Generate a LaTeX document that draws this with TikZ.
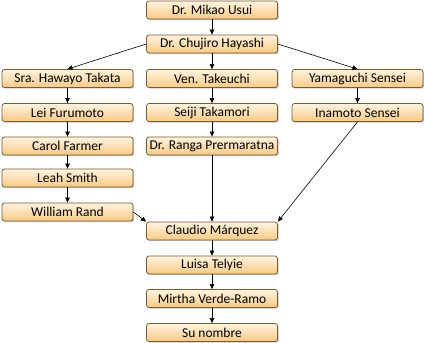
\documentclass[tikz,border=0pt]{standalone}
\usepackage{fontspec}
\setmainfont{Carlito}
\usetikzlibrary{arrows.meta,shadows}
\definecolor{boxline}{HTML}{7A5A2E}
\definecolor{boxtop}{HTML}{FFF4E0}
\definecolor{boxbot}{HTML}{F8C985}
\tikzset{
  person/.style={draw=boxline, line width=0.8pt, rounded corners=2.5pt,
    top color=boxtop, bottom color=boxbot,
    minimum width=131pt, minimum height=18pt, inner sep=0pt,
    font=\fontsize{13.5}{14}\selectfont,
    drop shadow={shadow xshift=1.2pt, shadow yshift=-1.2pt, fill=black!35, opacity=0.6}},
  link/.style={draw=black, line width=0.6pt, -{Triangle[length=5pt,width=4.5pt]}}
}
\begin{document}
\begin{tikzpicture}[x=1pt,y=-1pt]
\useasboundingbox[fill=white] (0,0) rectangle (424,343);
\node[person] (usui) at (212,10) {Dr. Mikao Usui};
\node[person] (hayashi) at (212,44) {Dr. Chujiro Hayashi};
\node[person] (takata) at (67.5,78.5) {Sra. Hawayo Takata};
\node[person] (takeuchi) at (212,78.5) {Ven. Takeuchi};
\node[person] (yamaguchi) at (357.5,78.5) {Yamaguchi Sensei};
\node[person] (furumoto) at (67.5,112.5) {Lei Furumoto};
\node[person] (takamori) at (212,112.5) {Seiji Takamori};
\node[person] (inamoto) at (357.5,112.5) {Inamoto Sensei};
\node[person] (farmer) at (67.5,146) {Carol Farmer};
\node[person] (ranga) at (212,146) {Dr. Ranga Prermaratna};
\node[person] (smith) at (67.5,178) {Leah Smith};
\node[person] (rand) at (67.5,212) {William Rand};
\node[person] (claudio) at (212,231) {Claudio Márquez};
\node[person] (luisa) at (212,265) {Luisa Telyie};
\node[person] (mirtha) at (212,298.5) {Mirtha Verde-Ramo};
\node[person] (su) at (212,332.5) {Su nombre};
\draw[link] (usui) -- (hayashi);
\draw[link] (hayashi.west) -- (takata.north);
\draw[link] (hayashi) -- (takeuchi);
\draw[link] (hayashi.east) -- (yamaguchi.north);
\draw[link] (takata) -- (furumoto);
\draw[link] (furumoto) -- (farmer);
\draw[link] (farmer) -- (smith);
\draw[link] (smith) -- (rand);
\draw[link] (takeuchi) -- (takamori);
\draw[link] (takamori) -- (ranga);
\draw[link] (yamaguchi) -- (inamoto);
\draw[link] (ranga) -- (claudio);
\draw[link] (inamoto.south) -- (claudio.north east);
\draw[link] (rand.east) -- (claudio.north west);
\draw[link] (claudio) -- (luisa);
\draw[link] (luisa) -- (mirtha);
\draw[link] (mirtha) -- (su);
\end{tikzpicture}
\end{document}
